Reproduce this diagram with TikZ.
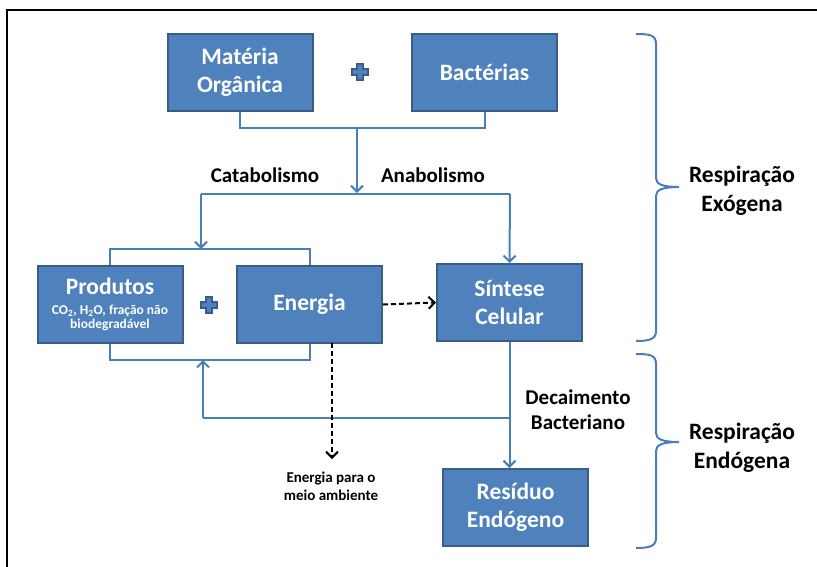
\documentclass[tikz,border=0pt]{standalone}
\usepackage{fontspec}
\setmainfont{Carlito}
\usetikzlibrary{arrows.meta}
\definecolor{boxfill}{HTML}{4F81BD}
\definecolor{boxedge}{HTML}{385D8A}
\definecolor{linkblue}{HTML}{4A7EBB}
\tikzset{
  blockbox/.style={draw=boxedge, fill=boxfill, line width=2pt, minimum width=145pt,
    minimum height=77pt, text=white, font=\fontsize{23.5}{28}\selectfont\bfseries,
    align=center, inner sep=0pt},
  link/.style={draw=linkblue, line width=2pt},
  linkarrow/.style={link, -{Straight Barb[length=6pt,width=12pt,line width=2pt]}},
  dasharrow/.style={draw=black, line width=2pt, dashed, dash pattern=on 5pt off 3pt,
    -{Straight Barb[length=6pt,width=12pt,line width=2pt]}},
  lbl/.style={font=\fontsize{21}{25}\selectfont\bfseries, align=center, text=black},
  sidelbl/.style={font=\fontsize{23.5}{29}\selectfont\bfseries, align=center, text=black},
  smalllbl/.style={font=\fontsize{15}{18}\selectfont\bfseries, align=center, text=black},
  brace/.style={draw=linkblue, line width=2pt, line join=round},
  plussign/.style={fill=boxfill, draw=boxedge, line width=1.2pt}
}
\newcommand{\plusmark}[1]{%
  \path[plussign] (#1) ++(-3,-8) -- ++(6,0) -- ++(0,5) -- ++(5,0) -- ++(0,6) -- ++(-5,0)
    -- ++(0,5) -- ++(-6,0) -- ++(0,-5) -- ++(-5,0) -- ++(0,-6) -- ++(5,0) -- cycle;}
\begin{document}
\begin{tikzpicture}[x=1pt,y=-1pt]
  \useasboundingbox (0,0) rectangle (817,566);
  % outer frame
  \draw[line width=2.5pt, black] (7,10) rectangle (840,590);

  % blocks
  \node[blockbox] (mo)   at (240,72)    {Matéria\\Orgânica};
  \node[blockbox] (bac)  at (484.5,72)  {Bactérias};
  \node[blockbox] (prod) at (110,304.5) {Produtos\\[-8pt]\parbox[t]{140pt}{\centering\fontsize{13.5}{14.5}\selectfont
      CO\textsubscript{2}, H\textsubscript{2}O, fração não\\biodegradável}};
  \node[blockbox] (ene)  at (309.5,304.5) {Energia};
  \node[blockbox] (sint) at (509.5,302.5) {Síntese\\Celular};
  \node[blockbox] (res)  at (515.5,507.5) {Resíduo\\Endógeno};

  \plusmark{360,72}
  \plusmark{209,305}

  % junction points
  \coordinate (j1) at (357,128);
  \coordinate (j2) at (357,193);
  \coordinate (cL) at (201,194);
  \coordinate (cR) at (510,194);
  \coordinate (pj) at (201,249);
  \coordinate (bj) at (203,360);
  \coordinate (dj) at (203,418);
  \coordinate (sj) at (510,418);
  \coordinate (ej) at (332,343);
  \coordinate (eo) at (332,459);

  % input merge and split
  \draw[link] (mo.south) |- (j1) -| (bac.south);
  \draw[linkarrow] (j1) -- (j2);
  \draw[link] (cL) -- (cR);
  \draw[linkarrow] (cL) -- (pj);
  \draw[linkarrow] (cR) -- (sint.north);
  \draw[link] (prod.north) |- (pj) -| (ene.north);

  % products group and return path
  \draw[link] (prod.south) |- (bj) -| (ene.south);
  \draw[link] (sj) -- (dj);
  \draw[linkarrow] (dj) -- (bj);
  \draw[linkarrow] (sint.south) -- (sint.south |- res.north);

  % energy flows
  \draw[dasharrow] (ene.east) -- (sint.west);
  \draw[dasharrow] (ej) -- (eo);

  % labels
  \node[lbl] (cat) at (265,175) {Catabolismo};
  \node[lbl] (ana) at (433,175) {Anabolismo};
  \node[lbl] (dec) at (578,410) {Decaimento\\Bacteriano};
  \node[smalllbl] (emb) at (331,486) {Energia para o\\meio ambiente};

  % braces
  \draw[brace] (636,34) .. controls (650,34) and (656,35) .. (656,44) -- (656,178)
    .. controls (656,184) and (662,187) .. (679,187)
    (679,187) .. controls (662,187) and (656,190) .. (656,196) -- (656,331)
    .. controls (656,339) and (650,341) .. (636,341);
  \draw[brace] (636,354) .. controls (650,354) and (656,355) .. (656,364) -- (656,433)
    .. controls (656,439) and (662,442) .. (679,442)
    (679,442) .. controls (662,442) and (656,445) .. (656,451) -- (656,538)
    .. controls (656,546) and (650,548) .. (636,548);
  \node[sidelbl] (rexo) at (742,191) {Respiração\\Exógena};
  \node[sidelbl] (rend) at (742,448) {Respiração\\Endógena};
\end{tikzpicture}
\end{document}
